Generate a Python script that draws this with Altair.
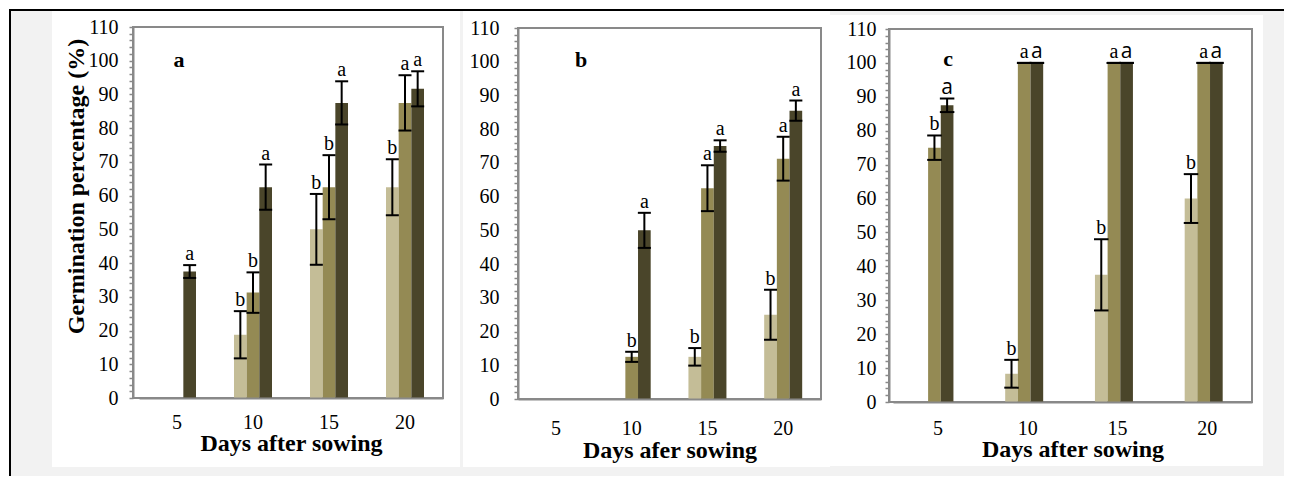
import altair as alt
import pandas as pd

days = ["5", "10", "15", "20"]
treatments = ["T1", "T2", "T3"]
bar_colors = ["#C4BD97", "#948A54", "#4A452A"]

# Panel a
a_t1 = [0, 18.75, 50.0, 62.5]
a_t2 = [0, 31.25, 62.5, 87.5]
a_t3 = [37.5, 62.5, 87.5, 91.67]
a_t1_se = [None, 7.0, 10.5, 8.3]
a_t2_se = [None, 6.0, 9.5, 8.2]
a_t3_se = [1.9, 6.7, 6.4, 5.2]
a_t1_sig = ["", "b", "b", "b"]
a_t2_sig = ["", "b", "b", "a"]
a_t3_sig = ["a", "a", "a", "a"]

# Panel b
b_t1 = [0, 0, 12.5, 25.0]
b_t2 = [0, 12.5, 62.5, 71.25]
b_t3 = [0, 50.0, 75.0, 85.5]
b_t1_se = [None, None, 2.6, 7.4]
b_t2_se = [None, 1.5, 6.8, 6.5]
b_t3_se = [None, 5.2, 1.7, 3.0]
b_t1_sig = ["", "", "b", "b"]
b_t2_sig = ["", "b", "a", "a"]
b_t3_sig = ["", "a", "a", "a"]

# Panel c
c_t1 = [0, 8.33, 37.5, 60.0]
c_t2 = [75.0, 100, 100, 100]
c_t3 = [87.5, 100, 100, 100]
c_t1_se = [None, 4.1, 10.5, 7.2]
c_t2_se = [3.6, 0, 0, 0]
c_t3_se = [2.0, 0, 0, 0]
c_t1_sig = ["", "b", "b", "b"]
c_t2_sig = ["b", "a", "a", "a"]
c_t3_sig = ["a", "a", "a", "a"]

SERIF = "Liberation Serif"
SANS = "Open Sans"
GRAY = "#898989"


def build(vals, ses, sigs, sans_trts=()):
    bars, errs, sig_serif, sig_sans = [], [], [], []
    for t, v, s, g in zip(treatments, vals, ses, sigs):
        for d, vv, ss, gg in zip(days, v, s, g):
            bars.append(dict(day=d, trt=t, value=vv))
            if ss is not None:
                errs.append(dict(day=d, trt=t, lo=vv - ss, hi=vv + ss))
            if gg:
                row = dict(day=d, trt=t, hi=vv + (ss or 0), sig=gg)
                (sig_sans if t in sans_trts else sig_serif).append(row)
    return (pd.DataFrame(bars), pd.DataFrame(errs),
            pd.DataFrame(sig_serif, columns=["day", "trt", "hi", "sig"]),
            pd.DataFrame(sig_sans, columns=["day", "trt", "hi", "sig"]))


def one():
    return alt.Chart(pd.DataFrame({"k": [0]}))


def panel(data, width, height, y_top, x_range, y_lab_pad, x_lab_pad, x_title, x_title_y,
          y_title, y_title_x, y_title_y, cap, tag, tag_x, tag_y, box, frame=False):
    bars, errs, sig_serif, sig_sans = data
    y_axis_kw = dict(values=list(range(0, 111, 2)),
                     labelExpr="datum.value % 10 == 0 ? datum.label : ''",
                     labelOverlap=False, labelFont=SERIF, labelFontSize=20,
                     labelColor="black", labelPadding=y_lab_pad, tickSize=4,
                     tickColor=GRAY, tickWidth=1.5, domainColor=GRAY,
                     domainWidth=2, grid=False, zindex=1)
    if y_title:
        y_axis_kw.update(titleFont=SERIF, titleFontSize=24, titleFontWeight="bold",
                         titleColor="black", titleX=y_title_x, titleY=y_title_y,
                         titleBaseline="alphabetic")
    y_axis = alt.Axis(**y_axis_kw)
    x_axis = alt.Axis(labelAngle=0, labelFont=SERIF, labelFontSize=20,
                      labelColor="black", labelPadding=x_lab_pad, ticks=False,
                      tickSize=0, domainColor=GRAY, domainWidth=2, grid=False,
                      zindex=1, titleFont=SERIF, titleFontSize=24,
                      titleFontWeight="bold", titleColor="black",
                      titleY=x_title_y, titleBaseline="alphabetic")
    yscale = alt.Scale(domain=[0, 110], range=[height, y_top], nice=False, zero=True)
    xscale = alt.Scale(range=x_range, paddingInner=0.5, paddingOuter=0.25)

    def X():
        return alt.X("day:N", sort=days, scale=xscale, axis=x_axis, title=x_title)

    def XO():
        return alt.XOffset("trt:N", sort=treatments,
                           scale=alt.Scale(paddingInner=0, paddingOuter=0))

    def Y(field):
        return alt.Y(field, scale=yscale, axis=y_axis, title=y_title)

    layers = []
    if frame:
        layers.append(one().mark_rect(color="white").encode(
            x=alt.value(-125), x2=alt.value(1151), y=alt.value(-19), y2=alt.value(449)))
        layers.append(one().mark_rect(color="#F2F2F2").encode(
            x=alt.value(-122), x2=alt.value(1151), y=alt.value(-16), y2=alt.value(449)))
        layers.append(one().mark_rule(color="black", strokeWidth=2).encode(
            x=alt.value(-124), x2=alt.value(1151), y=alt.value(-17)))
        layers.append(one().mark_rule(color="black", strokeWidth=2).encode(
            x=alt.value(-123), y=alt.value(-18), y2=alt.value(449)))
    layers.append(one().mark_rect(color="white").encode(
        x=alt.value(box[0]), x2=alt.value(box[1]), y=alt.value(box[2]), y2=alt.value(box[3])))
    layers.append(one().mark_rect(fill="transparent", stroke=GRAY, strokeWidth=2).encode(
        x=alt.value(0), x2=alt.value(width), y=alt.value(y_top), y2=alt.value(height)))

    layers.append(alt.Chart(bars).mark_bar().encode(
        x=X(), xOffset=XO(), y=Y("value:Q"),
        color=alt.Color("trt:N", scale=alt.Scale(domain=treatments, range=bar_colors),
                        legend=None)))
    layers.append(alt.Chart(errs).mark_rule(color="black", strokeWidth=2).encode(
        x=X(), xOffset=XO(), y=Y("lo:Q"), y2="hi:Q"))
    for f in ["lo:Q", "hi:Q"]:
        layers.append(alt.Chart(errs).mark_tick(color="black", thickness=2, size=cap,
                                                 opacity=1).encode(
            x=X(), xOffset=XO(), y=Y(f)))
    if len(sig_serif):
        layers.append(alt.Chart(sig_serif).mark_text(
            font=SERIF, fontSize=20, baseline="alphabetic", dy=-5, color="black").encode(
            x=X(), xOffset=XO(), y=Y("hi:Q"), text="sig:N"))
    if len(sig_sans):
        layers.append(alt.Chart(sig_sans).mark_text(
            font=SANS, fontSize=21, baseline="alphabetic", dy=-5, color="black").encode(
            x=X(), xOffset=XO(), y=Y("hi:Q"), text="sig:N"))
    layers.append(one().mark_text(font=SERIF, fontSize=22, fontWeight="bold",
                                  baseline="alphabetic", color="black").encode(
        x=alt.value(tag_x), y=alt.value(tag_y), text=alt.value(tag)))
    return alt.layer(*layers).properties(width=width, height=height)


pa = panel(build([a_t1, a_t2, a_t3], [a_t1_se, a_t2_se, a_t3_se],
                 [a_t1_sig, a_t2_sig, a_t3_sig]),
           310, 371, 0, [6, 310], 11, 14, "Days after sowing", 52.5,
           "Germination percentage (%)", -49.7, 159, 13, "a", 46, 39.7,
           (-81, 327, -16, 440), frame=True)
pb = panel(build([b_t1, b_t2, b_t3], [b_t1_se, b_t2_se, b_t3_se],
                 [b_t1_sig, b_t2_sig, b_t3_sig]),
           303, 372, 1, [0, 303], 15, 19, "Days afer sowing", 58.6,
           "", 0, 0, 13, "b", 63, 39.7, (-55, 312, -16, 440))
pc = panel(build([c_t1, c_t2, c_t3], [c_t1_se, c_t2_se, c_t3_se],
                 [c_t1_sig, c_t2_sig, c_t3_sig], sans_trts=("T3",)),
           363, 375, 2, [4, 363], 9, 16, "Days after sowing", 54.5,
           "", 0, 0, 14.5, "c", 59, 38.7, (-59, 374, -12, 439))

inner = alt.hconcat(pb, pc, spacing=68, bounds="flush")
chart = alt.hconcat(pa, inner, spacing=75, bounds="flush").properties(
    padding=0, background="white").configure_view(strokeWidth=0)

chart.save("out.html", embed_options={"renderer": "svg", "actions": False})
